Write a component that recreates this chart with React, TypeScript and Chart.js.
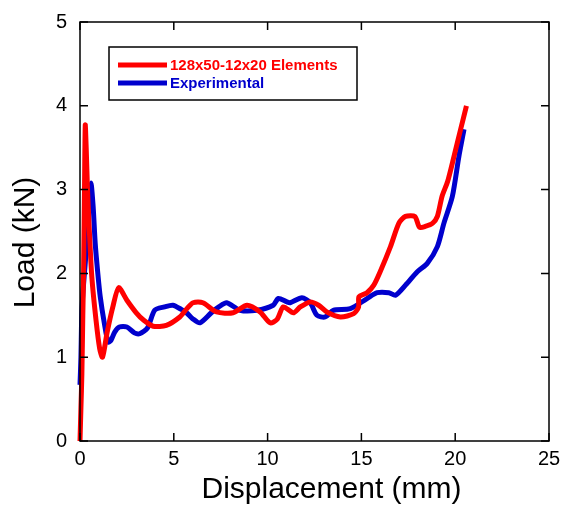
import { useEffect, useRef } from 'react';
import { Chart, registerables } from 'chart.js';

Chart.register(...registerables);

// Load–displacement curves (displacement in mm, load in kN)
const meshLabel = '128x50-12x20 Elements';
const meshDisp = [
  0.0, 0.05, 0.1, 0.15, 0.19, 0.24, 0.28, 0.33, 0.4, 0.5, 0.63, 0.85, 1.05, 1.2, 1.45, 1.75,
  2.06, 2.5, 3.0, 3.4, 3.9, 4.6, 5.32, 5.7, 6.03, 6.55, 7.28, 8.16, 8.9, 9.6, 10.13, 10.5,
  10.84, 11.37, 11.74, 12.27, 12.72, 13.16, 13.88, 14.59, 14.85, 14.87, 15.3, 15.66, 16.0,
  16.55, 17.0, 17.35, 17.85, 18.1, 18.4, 18.8, 19.05, 19.3, 19.6, 19.94, 20.29, 20.6,
];
const meshLoad = [
  0.0, 0.4, 0.8, 1.5, 2.0, 3.0, 3.77, 3.5, 3.0, 2.5, 1.96, 1.45, 1.1, 1.0, 1.3, 1.6,
  1.83, 1.68, 1.53, 1.44, 1.37, 1.38, 1.48, 1.58, 1.65, 1.65, 1.54, 1.53, 1.62, 1.54, 1.41, 1.45,
  1.6, 1.53, 1.6, 1.66, 1.62, 1.54, 1.48, 1.52, 1.6, 1.72, 1.77, 1.86, 2.02,
  2.32, 2.6, 2.68, 2.68, 2.55, 2.56, 2.6, 2.68, 2.92, 3.1, 3.4, 3.72, 4.0,
];

const expLabel = 'Experimental';
const expDisp = [
  0.0, 0.05, 0.1, 0.2, 0.36, 0.45, 0.58, 0.7, 0.81, 0.95, 1.08, 1.3, 1.5, 1.65, 1.85, 2.1,
  2.5, 2.9, 3.18, 3.6, 3.98, 4.5, 4.95, 5.4, 5.68, 6.0, 6.39, 7.0, 7.4, 7.82, 8.53, 9.42,
  10.3, 10.57, 11.03, 11.2, 11.83, 12.27, 12.63, 13.07, 13.5, 14.41, 15.3, 15.84, 16.46,
  16.82, 17.35, 17.98, 18.51, 19.05, 19.4, 19.85, 20.2, 20.47,
];
const expLoad = [
  0.67, 1.0, 1.56, 1.9, 2.36, 2.8, 3.08, 2.8, 2.36, 2.0, 1.72, 1.4, 1.18, 1.2, 1.3, 1.36,
  1.36, 1.29, 1.28, 1.35, 1.56, 1.6, 1.62, 1.57, 1.53, 1.46, 1.41, 1.53, 1.6, 1.65, 1.56, 1.56,
  1.62, 1.7, 1.66, 1.65, 1.71, 1.65, 1.5, 1.48, 1.56, 1.58, 1.7, 1.77, 1.77,
  1.74, 1.86, 2.02, 2.12, 2.32, 2.6, 2.92, 3.4, 3.72,
];

const xTicks = [0, 5, 10, 15, 20, 25];
const yTicks = [0, 1, 2, 3, 4, 5];
const xTitle = 'Displacement (mm)';
const yTitle = 'Load (kN)';

const RED = '#ff0000';
const BLUE = '#0000cd';
const FONT = 'Arial, "Liberation Sans", sans-serif';

const toPoints = (xs: number[], ys: number[]) => xs.map((x, i) => ({ x, y: ys[i] }));

// Boxed frame with inward ticks on all four sides, axis titles and a boxed legend
const framePlugin = {
  id: 'frame',
  afterDatasetsDraw(chart: any) {
    const { ctx, chartArea, scales } = chart;
    const { left, right, top, bottom } = chartArea;
    const tick = 8;
    ctx.save();
    ctx.strokeStyle = '#000';
    ctx.lineWidth = 1.5;
    ctx.strokeRect(left, top, right - left, bottom - top);
    ctx.beginPath();
    xTicks.forEach((v) => {
      const px = scales.x.getPixelForValue(v);
      ctx.moveTo(px, bottom);
      ctx.lineTo(px, bottom - tick);
      ctx.moveTo(px, top);
      ctx.lineTo(px, top + tick);
    });
    yTicks.forEach((v) => {
      const py = scales.y.getPixelForValue(v);
      ctx.moveTo(left, py);
      ctx.lineTo(left + tick, py);
      ctx.moveTo(right, py);
      ctx.lineTo(right - tick, py);
    });
    ctx.stroke();

    // axis titles
    ctx.fillStyle = '#000';
    ctx.font = `30px ${FONT}`;
    ctx.textAlign = 'center';
    ctx.textBaseline = 'alphabetic';
    ctx.fillText(xTitle, (left + right) / 2 + 17, bottom + 57);
    ctx.save();
    ctx.translate(left - 46, (top + bottom) / 2 + 11);
    ctx.rotate(-Math.PI / 2);
    ctx.fillText(yTitle, 0, 0);
    ctx.restore();

    // legend
    const bx = left + 29;
    const by = top + 25;
    const bw = 248;
    const bh = 53;
    ctx.fillStyle = '#fff';
    ctx.fillRect(bx, by, bw, bh);
    ctx.strokeStyle = '#000';
    ctx.lineWidth = 1.5;
    ctx.strokeRect(bx, by, bw, bh);
    const items = chart.data.datasets.map((d: any) => ({ label: d.label, color: d.borderColor }));
    items.forEach((it: any, i: number) => {
      const cy = by + 18 + i * 18;
      ctx.strokeStyle = it.color;
      ctx.lineWidth = 5;
      ctx.beginPath();
      ctx.moveTo(bx + 9, cy);
      ctx.lineTo(bx + 58, cy);
      ctx.stroke();
      ctx.fillStyle = it.color;
      ctx.font = `bold 15px ${FONT}`;
      ctx.textBaseline = 'middle';
      ctx.textAlign = 'left';
      ctx.fillText(it.label, bx + 61, cy + 0.5);
    });
    ctx.restore();
  },
};

export default function App() {
  const ref = useRef<HTMLCanvasElement>(null);

  useEffect(() => {
    document.body.style.margin = '0';
    const chart = new Chart(ref.current!, {
      type: 'line',
      data: {
        datasets: [
          {
            label: meshLabel,
            data: toPoints(meshDisp, meshLoad),
            borderColor: RED,
            backgroundColor: RED,
            borderWidth: 5,
            pointRadius: 0,
            tension: 0.25,
            clip: false,
          },
          {
            label: expLabel,
            data: toPoints(expDisp, expLoad),
            borderColor: BLUE,
            backgroundColor: BLUE,
            borderWidth: 5,
            pointRadius: 0,
            tension: 0.25,
            clip: false,
          },
        ],
      },
      options: {
        responsive: false,
        animation: false,
        devicePixelRatio: 1,
        layout: { padding: { top: 22, right: 15, left: 0, bottom: 0 } },
        plugins: { legend: { display: false }, tooltip: { enabled: false } },
        scales: {
          x: {
            type: 'linear',
            min: 0,
            max: 25,
            afterBuildTicks: (s: any) => {
              s.ticks = xTicks.map((value) => ({ value }));
            },
            ticks: { color: '#000', font: { family: FONT, size: 20 }, padding: 6, maxRotation: 0 },
            grid: { display: false, drawTicks: false },
            border: { display: false },
            afterFit: (s: any) => {
              s.height = 70;
              s.paddingLeft = 0;
              s.paddingRight = 0;
            },
          },
          y: {
            type: 'linear',
            min: 0,
            max: 5,
            afterBuildTicks: (s: any) => {
              s.ticks = yTicks.map((value) => ({ value }));
            },
            ticks: { color: '#000', font: { family: FONT, size: 20 }, padding: 13 },
            grid: { display: false, drawTicks: false },
            border: { display: false },
            afterFit: (s: any) => {
              s.width = 80;
              s.paddingTop = 0;
              s.paddingBottom = 0;
            },
          },
        },
      },
      plugins: [framePlugin],
    });
    return () => chart.destroy();
  }, []);

  return <canvas ref={ref} width={564} height={511} style={{ display: 'block' }} />;
}
